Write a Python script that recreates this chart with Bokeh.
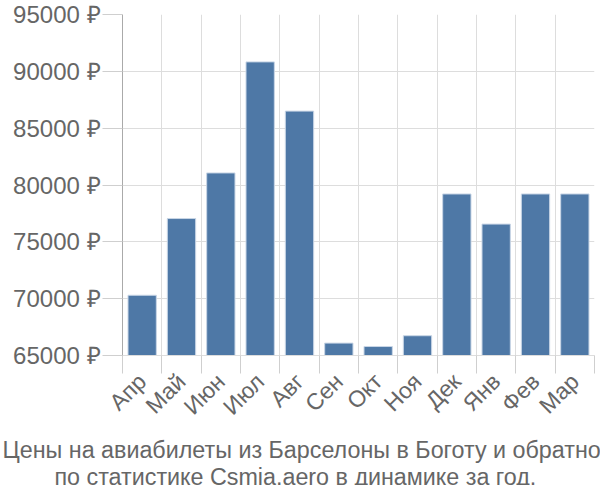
from bokeh.plotting import figure
from bokeh.models import Range1d, FixedTicker, Title, ColumnDataSource
from bokeh.embed import file_html
from bokeh.resources import INLINE
import math

months = ["Апр", "Май", "Июн", "Июл", "Авг", "Сен", "Окт", "Ноя", "Дек", "Янв", "Фев", "Мар"]
prices = [70300, 77050, 81060, 90830, 86500, 66090, 65790, 66740, 79210, 76560, 79210, 79210]
y_ticks = [65000, 70000, 75000, 80000, 85000, 90000, 95000]
title_lines = ["Цены на авиабилеты из Барселоны в Боготу и обратно",
               "по статистике Csmia.aero в динамике за год."]

FONT = "Liberation Sans"
TXT = "#666666"
GRID = "#dddddd"
TICK = "#cfcfcf"

centers = [i + 0.5 for i in range(len(months))]
bounds = list(range(len(months) + 1))
src = ColumnDataSource(dict(x=centers, top=prices))

p = figure(width=600, height=500, output_backend="svg", toolbar_location=None,
           x_range=Range1d(0, len(months)), y_range=Range1d(65000, 95000),
           frame_width=472, frame_height=341,
           min_border_left=122, min_border_right=6, min_border_top=14, min_border_bottom=0,
           outline_line_color=None)
p.vbar(x="x", top="top", bottom=65000, width=0.72, source=src,
       fill_color="#4e78a6", line_color="#c9d6e6", line_width=1)

# y axis
ya = p.yaxis[0]
ya.ticker = FixedTicker(ticks=y_ticks)
ya.major_label_overrides = {t: f"{t} ₽" for t in y_ticks}
ya.major_tick_out = 20
ya.major_tick_in = 0
ya.minor_tick_line_color = None
ya.major_tick_line_color = TICK
ya.axis_line_color = "#aaaaaa"
ya.major_label_text_font = FONT
ya.major_label_text_font_size = "24px"
ya.major_label_text_color = TXT
ya.major_label_standoff = 2

# x axis: labels at centres, minor ticks at category boundaries
xa = p.xaxis[0]
xa.ticker = FixedTicker(ticks=centers, minor_ticks=bounds)
xa.major_label_overrides = {c: m for c, m in zip(centers, months)}
xa.major_tick_out = 0
xa.major_tick_in = 0
xa.minor_tick_out = 18
xa.minor_tick_in = 0
xa.minor_tick_line_color = TICK
xa.minor_tick_line_width = 1
xa.axis_line_color = GRID
xa.major_label_orientation = math.pi / 4
xa.major_label_text_font = FONT
xa.major_label_text_font_size = "23px"
xa.major_label_text_color = TXT
xa.major_label_standoff = 4

p.xgrid.ticker = FixedTicker(ticks=bounds)
p.xgrid.grid_line_color = GRID
p.ygrid.ticker = FixedTicker(ticks=y_ticks)
p.ygrid.grid_line_color = GRID

# title lines below, left-aligned with offsets so they sit centred on the page
offsets = [-120, -68]
standoffs = [7, -9]
for i, line in enumerate(title_lines):
    p.add_layout(Title(text=line, align="left", offset=offsets[i],
                       text_font=FONT, text_font_size="23.3px",
                       text_color=TXT, text_font_style="normal",
                       standoff=standoffs[i]), "below")

open("out.html", "w").write(file_html(p, INLINE))
